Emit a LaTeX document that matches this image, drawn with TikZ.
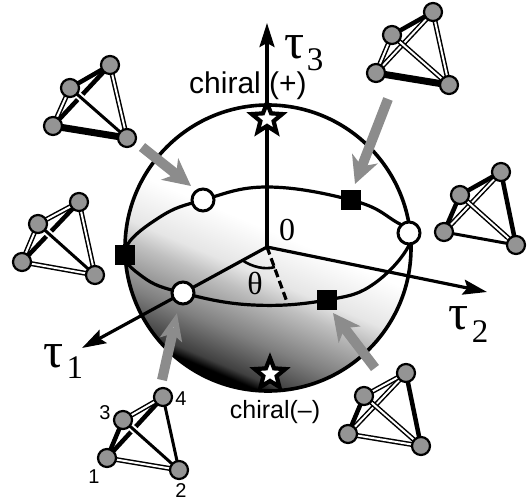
\documentclass[tikz,border=0pt]{standalone}
\usepackage{fontspec}
\setmainfont{Liberation Sans}
\newfontfamily\serifgreek{Liberation Serif}
\usetikzlibrary{arrows.meta,shapes.geometric}
\tikzset{>=Stealth}
\pgfdeclareverticalshading{ballgrad}{100bp}{color(0bp)=(black); color(26.3bp)=(black); color(28bp)=(black!75); color(34bp)=(black!50); color(41.5bp)=(black!25); color(45bp)=(black!10); color(53bp)=(white); color(100bp)=(white)}
\begin{document}
\begin{tikzpicture}[
    x=1pt, y=-1pt,
    vertex/.style={circle, draw, line width=2.2pt, fill=black!42, minimum size=18pt, inner sep=0pt},
    hollow/.style={draw=black, line width=1.5pt, double=white, double distance=2pt},
    slim/.style={draw=black, line width=3pt, preaction={draw=white, line width=7pt}},
    medium/.style={draw=black, line width=4.5pt},
    heavy/.style={draw=black, line width=7pt},
    axis/.style={->, line width=3.2pt, >={Stealth[length=24pt, width=15pt, inset=4pt]}},
    pointer/.style={->, draw=black!45, line width=10pt, >={Stealth[length=27pt, width=27pt, inset=8pt]}},
    whitept/.style={circle, draw, line width=3pt, fill=white, minimum size=22pt, inner sep=0pt},
    blackpt/.style={rectangle, fill=black, minimum size=20pt, inner sep=0pt},
    starpt/.style={star, star points=5, star point ratio=2.3, draw, line width=4.2pt, fill=white, minimum size=32pt, inner sep=0pt},
    tau/.style={font=\serifgreek\fontsize{50}{50}\selectfont, inner sep=0pt},
    sublabel/.style={font=\serifgreek\fontsize{33}{33}\selectfont, inner sep=0pt},
    chiral/.style={font=\fontsize{25}{25}\selectfont, inner sep=0pt},
    num/.style={font=\fontsize{20}{20}\selectfont, inner sep=0pt},
    greek/.style={font=\serifgreek\fontsize{32}{32}\selectfont, inner sep=0pt}
]
    \useasboundingbox (0,0) rectangle (531,501);

    % sphere
    \coordinate (origin) at (267,247);
    \shade[shading=ballgrad, shading angle=-23] (268,248) circle [radius=143];
    \draw[line width=3.6pt] (268,248) circle [radius=143];
    \draw[line width=3.2pt] plot[smooth cycle, tension=0.7] coordinates {(125,250) (160,217) (203,200) (267,187) (351,200) (393,220) (411,240) (375,283) (327,300) (253,305) (183,293) (143,277)};

    % axes
    \coordinate (t1tip) at (82,348);
    \coordinate (t2tip) at (487,292);
    \coordinate (t3tip) at (267,23);
    \draw[axis] (origin) -- (t1tip);
    \draw[axis] (origin) -- (t2tip);
    \draw[axis] (origin) -- (t3tip);

    % angle
    \coordinate (arcend) at (287,302);
    \draw[line width=3.2pt, dash pattern=on 8pt off 4pt] (origin) -- (arcend);
    \draw[line width=2.6pt] (242,260) .. controls (252,267) and (265,270) .. (275,267);

    % points on the equator
    \node[whitept] (w1) at (203,200) {};
    \node[whitept] (w2) at (409,233) {};
    \node[whitept] (w3) at (183,293) {};
    \node[blackpt] (b1) at (351,200) {};
    \node[blackpt] (b2) at (125,255) {};
    \node[blackpt] (b3) at (327,300) {};

    % poles
    \node[starpt] (plus) at (267,119) {};
    \node[starpt] (minus) at (270,374) {};

    % labels
    \node[chiral, font=\fontsize{30}{30}\selectfont] (lplus) at (248,86) {chiral (+)};
    \node[chiral] (lminus) at (275,412) {chiral(--)};
    \node[greek] (zero) at (287,230) {0};
    \node[greek] (theta) at (255,283) {θ};
    \node[tau] (tau3) at (295,47) {τ};
    \node[sublabel] (sub3) at (315,60) {3};
    \node[tau] (tau2) at (459,318) {τ};
    \node[sublabel] (sub2) at (480,332) {2};
    \node[tau] (tau1) at (54,356) {τ};
    \node[sublabel] (sub1) at (75,368) {1};

    % tetrahedra
    \foreach \name/\ax/\ay/\bx/\by/\cx/\cy/\dx/\dy/\onethree/\threefour/\onefour/\onetwo/\threetwo/\fourtwo in {
        p/53/126/70/88/110/65/127/138/hollow/medium/medium/heavy/slim/hollow,
        q/22/262/38/224/79/202/95/275/hollow/hollow/medium/hollow/slim/hollow,
        r/376/73/392/35/433/12/449/85/hollow/medium/hollow/heavy/hollow/hollow,
        s/444/232/460/195/501/172/516/245/medium/medium/hollow/slim/hollow/medium,
        t/107/458/123/420/163/397/179/470/medium/hollow/medium/hollow/slim/slim,
        u/348/434/364/396/406/373/421/446/medium/hollow/hollow/hollow/hollow/medium} {
        \coordinate (\name a) at (\ax,\ay);
        \coordinate (\name b) at (\bx,\by);
        \coordinate (\name c) at (\cx,\cy);
        \coordinate (\name d) at (\dx,\dy);
        \draw[\onefour] (\name a) -- (\name c);
        \draw[\threetwo] (\name b) -- (\name d);
        \draw[\onethree] (\name a) -- (\name b);
        \draw[\threefour] (\name b) -- (\name c);
        \draw[\onetwo] (\name a) -- (\name d);
        \draw[\fourtwo] (\name c) -- (\name d);
        \node[vertex] (\name1) at (\name a) {};
        \node[vertex] (\name3) at (\name b) {};
        \node[vertex] (\name4) at (\name c) {};
        \node[vertex] (\name2) at (\name d) {};
    }
    \node[num] (n1) at (94,477) {1};
    \node[num] (n3) at (105,413) {3};
    \node[num] (n4) at (181,399) {4};
    \node[num] (n2) at (181,491) {2};

    % grey pointers
    \coordinate (a1) at (142,147);
    \coordinate (h1) at (191,186);
    \coordinate (a2) at (388,99);
    \coordinate (h2) at (355,184);
    \coordinate (a3) at (375,368);
    \coordinate (h3) at (333,313);
    \coordinate (a4) at (162,380);
    \coordinate (h4) at (177,313);
    \draw[pointer] (a1) -- (h1);
    \draw[pointer] (a2) -- (h2);
    \draw[pointer] (a3) -- (h3);
    \draw[pointer, -{Stealth[length=27pt, width=22pt, inset=6pt, fill=white]}] (a4) -- (h4);
\end{tikzpicture}
\end{document}
